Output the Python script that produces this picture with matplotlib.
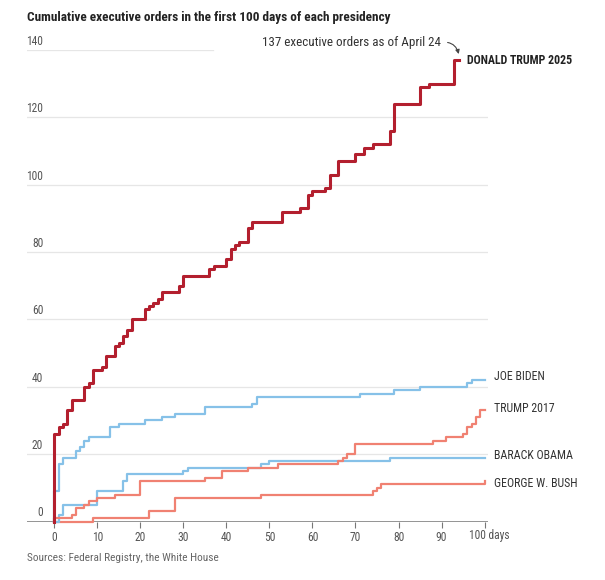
import matplotlib
matplotlib.use('Agg')
import matplotlib.pyplot as plt

plt.rcParams['font.family'] = ['Roboto Condensed', 'DejaVu Sans']

# cumulative executive orders, by day since inauguration (step data)
trump25_days = [0, 0, 1, 2, 3, 4, 7, 8, 9, 11, 12, 14, 15, 16, 17, 18, 21, 22, 23, 24,
                25, 29, 30, 36, 37, 40, 41, 42, 43, 45, 46, 53, 57, 59, 60, 63, 64, 66,
                70, 72, 74, 78, 79, 85, 87, 93, 94]
trump25_orders = [0, 26, 28, 29, 33, 36, 40, 41, 45, 46, 49, 52, 53, 55, 57, 60, 63, 64, 65, 66,
                  68, 70, 73, 75, 76, 78, 81, 82, 83, 87, 89, 92, 93, 97, 98, 99, 103, 107,
                  109, 111, 112, 116, 124, 129, 130, 137, 137]

biden_days = [0, 0, 1, 2, 5, 6, 7, 8, 13, 15, 21, 25, 28, 35, 46, 47, 71, 79, 85, 96, 97, 100]
biden_orders = [0, 9, 17, 19, 21, 22, 24, 25, 28, 29, 30, 31, 32, 34, 35, 37, 38, 39, 40, 41, 42, 42]

trump17_days = [0, 0, 4, 5, 7, 8, 10, 14, 20, 35, 39, 45, 52, 66, 67, 68, 70, 88, 91,
                95, 96, 97, 98, 99, 100]
trump17_orders = [0, 1, 2, 4, 5, 6, 7, 8, 12, 13, 15, 16, 17, 18, 19, 20, 23, 24, 25,
                  26, 28, 29, 31, 33, 33]

obama_days = [0, 1, 2, 10, 16, 17, 30, 31, 48, 50, 78, 100]
obama_orders = [0, 2, 5, 9, 12, 14, 15, 16, 17, 18, 19, 19]

bush_days = [0, 9, 22, 28, 48, 74, 75, 76, 100, 100]
bush_orders = [0, 1, 3, 7, 8, 9, 10, 11, 11, 12]

y_ticks = [0, 20, 40, 60, 80, 100, 120, 140]
x_ticks = [0, 10, 20, 30, 40, 50, 60, 70, 80, 90, 100]

DARK_RED = '#B31F2E'
SALMON = '#F08172'
BLUE = '#86C1E8'
GRID = '#e6e6e6'
TXT = '#333333'

fig = plt.figure(figsize=(6.05, 5.8), dpi=100)
ax = fig.add_axes([27/605, 58.5/580, 461/605, 471.5/580])
ax.set_xlim(-6.35, 100.8)
ax.set_ylim(0, 140)

# gridlines (the top one is cut short by the annotation)
for v in y_ticks[1:]:
    xmax = 0.403 if v == 140 else 1
    ax.axhline(v, xmax=xmax, color=GRID, linewidth=0.9, zorder=0)
ax.axhline(0, color='#777777', linewidth=1.1, zorder=1)

for v in y_ticks:
    ax.annotate(str(v), xy=(-2.6, v), xytext=(0, 1.5), textcoords='offset points',
                ha='right', va='bottom', fontsize=8.3, color='#555555')

# series
ax.plot(bush_days, bush_orders, drawstyle='steps-post', color=SALMON, lw=1.6, clip_on=False, zorder=2)
ax.plot(obama_days, obama_orders, drawstyle='steps-post', color=BLUE, lw=1.6, clip_on=False, zorder=2)
ax.plot(trump17_days, trump17_orders, drawstyle='steps-post', color=SALMON, lw=1.6, clip_on=False, zorder=3)
ax.plot(biden_days, biden_orders, drawstyle='steps-post', color=BLUE, lw=1.6, clip_on=False, zorder=3)
ax.plot(trump25_days, trump25_orders, drawstyle='steps-post', color=DARK_RED, lw=2.2, clip_on=False, zorder=4)

# end labels
ax.text(96.0, 137, 'DONALD TRUMP 2025', fontsize=8.6, fontweight='bold', color='#222222', va='center')
ax.text(102.3, 43.2, 'JOE BIDEN', fontsize=8.6, color=TXT, va='center')
ax.text(102.3, 33.7, 'TRUMP 2017', fontsize=8.6, color=TXT, va='center')
ax.text(102.3, 19.7, 'BARACK OBAMA', fontsize=8.6, color=TXT, va='center')
ax.text(102.3, 11.4, 'GEORGE W. BUSH', fontsize=8.6, color=TXT, va='center')

ax.annotate('137 executive orders as of April 24', xy=(94.0, 138.8), xytext=(89.8, 142.2),
            ha='right', va='center', fontsize=9.4, color=TXT, annotation_clip=False,
            arrowprops=dict(arrowstyle='-|>', color='#444444', lw=0.8,
                            mutation_scale=6, shrinkA=3, shrinkB=0, relpos=(1, 0.5),
                            connectionstyle='arc3,rad=-0.45'))

# x axis
ax.set_xticks(x_ticks)
ax.set_xticklabels([str(t) for t in x_ticks[:-1]] + [''])
ax.tick_params(axis='x', direction='out', length=4, width=0.8, color='#777777',
               labelsize=8.3, labelcolor='#555555', pad=3)
ax.annotate('100 days', xy=(100, 0), xytext=(-16, -7), textcoords='offset pixels',
            ha='left', va='top', fontsize=8.3, color='#555555', annotation_clip=False)
ax.set_yticks([])
for sp in ax.spines.values():
    sp.set_visible(False)

fig.text(27/605, 1 - 18/580, 'Cumulative executive orders in the first 100 days of each presidency',
         fontsize=9.5, fontweight='bold', color='#222222', va='center')
fig.text(27/605, 1 - 558/580, 'Sources: Federal Registry, the White House',
         fontsize=8.2, color='#666666', va='center')

fig.savefig('out.png', dpi=100)
